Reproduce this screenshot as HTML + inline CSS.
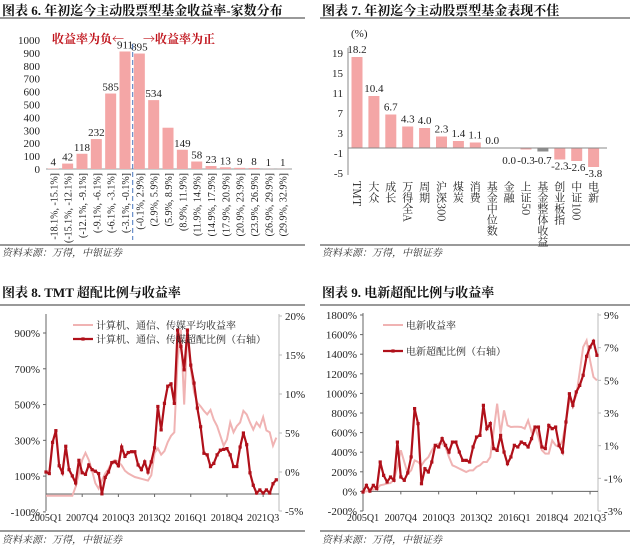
<!DOCTYPE html>
<html><head><meta charset="utf-8"><style>
html,body{margin:0;padding:0;background:#fff;}
svg{display:block;font-family:"Liberation Serif","Noto Serif CJK SC",serif;}
.t{font-family:"Liberation Serif","Noto Serif CJK SC",serif;font-weight:bold;font-size:13px;fill:#111;}
.ax{font-size:11px;fill:#222;font-family:"Liberation Serif","Noto Sans CJK SC",serif;}
.xt{font-size:10px;fill:#222;font-family:"Liberation Serif",serif;}
.src{font-size:10px;fill:#333;font-style:italic;font-family:"Liberation Serif","Noto Serif CJK SC",serif;}
</style></head><body>
<svg id="root" width="640" height="550" viewBox="0 0 640 550" xmlns="http://www.w3.org/2000/svg">
<text class="t" x="2" y="15">图表 6. 年初迄今主动股票型基金收益率-家数分布</text>
<line x1="0" y1="18" x2="305" y2="18" stroke="#333" stroke-width="1"/>
<text class="t" x="322" y="15">图表 7. 年初迄今主动股票型基金表现不佳</text>
<line x1="320" y1="18" x2="630" y2="18" stroke="#333" stroke-width="1"/>
<line x1="0" y1="245" x2="305" y2="245" stroke="#333"/>
<text class="src" x="2" y="256">资料来源：万得，中银证券</text>
<line x1="320" y1="245" x2="630" y2="245" stroke="#333"/>
<text class="src" x="322" y="256">资料来源：万得，中银证券</text>
<text class="t" x="2" y="297">图表 8. TMT 超配比例与收益率</text>
<line x1="0" y1="305" x2="305" y2="305" stroke="#333"/>
<text class="t" x="322" y="297">图表 9. 电新超配比例与收益率</text>
<line x1="320" y1="305" x2="630" y2="305" stroke="#333"/>
<line x1="0" y1="531" x2="305" y2="531" stroke="#333"/>
<text class="src" x="2" y="543">资料来源：万得，中银证券</text>
<line x1="320" y1="531" x2="630" y2="531" stroke="#333"/>
<text class="src" x="322" y="543">资料来源：万得，中银证券</text>
</svg>
<script>
// ---------- Figure 6 data ----------
const f6Categories = ["-18.1%, -15.1%]","(-15.1%, -12.1%]","(-12.1%, -9.1%]","(-9.1%, -6.1%]","(-6.1%, -3.1%]","(-3.1%, -0.1%]","(-0.1%, 2.9%]","(2.9%, 5.9%]","(5.9%, 8.9%]","(8.9%, 11.9%]","(11.9%, 14.9%]","(14.9%, 17.9%]","(17.9%, 20.9%]","(20.9%, 23.9%]","(23.9%, 26.9%]","(26.9%, 29.9%]","(29.9%, 32.9%]"];
const f6Values = [4,42,118,232,585,911,895,534,320,149,58,23,13,9,8,1,1];
const f6ShowLabel = [1,1,1,1,1,1,1,1,0,1,1,1,1,1,1,1,1];
const f6Ticks = [0,100,200,300,400,500,600,700,800,900,1000];
// ---------- Figure 7 data ----------
const f7Categories = ["TMT","大众","成长","万得全A","周期","沪深300","煤炭","消费","基金中位数","金融","上证50","基金整体收益","创业板指","中证100","电新"];
const f7Values = [18.2,10.4,6.7,4.3,4.0,2.3,1.4,1.1,0.0,0.0,-0.3,-0.7,-2.3,-2.6,-3.8];
const f7Ticks = [19,15,11,7,3,-1,-5];
// ---------- Figure 8 data ----------
const f8XLabels = ["2005Q1","2007Q4","2010Q3","2013Q2","2016Q1","2018Q4","2021Q3"];
const f8LeftTicks = [-100,100,300,500,700,900];
const f8RightTicks = [-5,0,5,10,15,20];
const f8Return = [-10,-10,-10,-10,-10,-10,-10,-10,-10,40,115,190,230,190,130,60,30,75,115,140,180,190,180,160,130,115,105,95,90,85,80,75,105,230,255,220,240,290,325,345,750,920,500,920,700,570,510,490,465,445,470,415,380,325,270,305,400,345,380,400,465,445,400,360,400,375,430,355,345,270,315];
const f8Overweight = [0.0,-0.2,3.8,5.3,0.8,-0.1,3.3,0.3,-0.5,-1.4,1.5,-0.1,-0.3,0.9,0.3,0.1,-0.2,-2.8,-0.7,0.0,1.2,1.3,0.8,3.2,2.0,2.5,2.6,2.6,0.9,0.3,1.3,0.0,1.3,3.1,8.4,5.4,8.8,11.0,11.3,8.8,18.2,16.1,13.1,18.2,13.7,11.4,8.2,5.8,2.4,2.2,0.7,1.1,2.2,2.8,2.9,3.0,2.2,0.7,0.7,3.2,5.0,3.5,-0.1,-1.7,-2.7,-2.3,-2.7,-2.3,-2.7,-1.5,-1.0];
// ---------- Figure 9 data ----------
const f9XLabels = ["2005Q1","2007Q4","2010Q3","2013Q2","2016Q1","2018Q4","2021Q3"];
const f9LeftTicks = [-200,0,200,400,600,800,1000,1200,1400,1600,1800];
const f9RightTicks = [-3,-1,1,3,5,7,9];
const f9Return = [0,0,10,20,30,62,70,80,85,120,250,420,300,180,215,317,300,266,317,350,420,470,487,487,453,350,266,250,232,215,198,215,215,250,266,300,300,350,623,895,590,827,674,657,660,660,657,640,725,606,657,555,420,385,385,520,470,453,520,708,930,895,980,1218,1473,1540,1337,1167,1133];
const f9Overweight = [-1.84,-1.43,-1.78,-1.43,-1.63,0.0,-0.82,-1.22,-0.92,-1.12,1.22,-0.92,-1.12,-0.67,0.31,3.27,2.35,-1.33,-0.41,-0.61,0.0,1.02,0.92,1.43,1.02,0.61,1.22,1.22,0.61,0.1,0.1,0.0,0.92,1.53,1.63,3.47,2.04,2.35,0.82,0.71,1.63,0.61,-0.1,0.31,1.02,0.92,1.22,1.12,0.92,1.43,2.14,2.14,0.92,0.82,2.24,2.04,2.14,1.02,0.61,2.45,4.18,3.47,4.29,4.69,5.31,6.47,7.04,7.39,6.53];

const NS="http://www.w3.org/2000/svg";
const root=document.getElementById('root');
function mk(tag,attrs,parent){const e=document.createElementNS(NS,tag);for(const k in attrs)e.setAttribute(k,attrs[k]);(parent||root).appendChild(e);return e;}
function lin(d0,d1,r0,r1){return v=>r0+(v-d0)*(r1-r0)/(d1-d0);}
const PINK="#f4a6a6", DARK="#b0101a", LPINK="#f0b3b3";

// ===== Figure 6 =====
(function(){
  const y=lin(0,1000,169,40);
  const x=i=>53.3+i*14.34;
  f6Ticks.forEach(t=>{
    const e=mk('text',{x:40,y:y(t)+4,'text-anchor':'end',class:'ax'});
    
    
    e.textContent=t;
  });
  const ax=mk('line',{x1:46,y1:169,x2:292,y2:169,stroke:'#999'});
  
  
  f6Values.forEach((v,i)=>{
    const b=mk('rect',{x:x(i)-5.5,y:y(v),width:11,height:169-y(v),fill:PINK});
    
    
    if(f6ShowLabel[i]){
      const l=mk('text',{x:x(i),y:y(v)-3,'text-anchor':'middle',class:'ax'});
      
      
      l.textContent=v;
    }
    const c=mk('text',{x:0,y:0,'text-anchor':'end',class:'ax',transform:`translate(${x(i)+4},173) rotate(-90)`,style:'font-size:10px'});
    
    
    c.textContent=f6Categories[i];
  });
  const d=mk('line',{x1:132.7,y1:44,x2:132.7,y2:240,stroke:'#4a78c0','stroke-dasharray':'5,3','stroke-width':1});
  
  
  const n=mk('text',{x:52,y:43,fill:'#c0141c',style:'font-size:12px;font-weight:bold;font-family:"Noto Serif CJK SC",serif'});
  
  
  n.textContent='收益率为负←';
  const p=mk('text',{x:143,y:43,fill:'#c0141c',style:'font-size:12px;font-weight:bold;font-family:"Noto Serif CJK SC",serif'});
  
  
  p.textContent='→收益率为正';
})();

// ===== Figure 7 =====
(function(){
  const y=lin(0,19,148,53);
  const x=i=>357+i*16.9;
  f7Ticks.forEach(t=>{
    const e=mk('text',{x:343,y:y(t)+4,'text-anchor':'end',class:'ax'});
    
    
    e.textContent=t;
  });
  const u=mk('text',{x:351,y:37,class:'ax'});
  
  
  u.textContent='(%)';
  const va=mk('line',{x1:348,y1:48,x2:348,y2:175,stroke:'#888'});
  
  
  f7Values.forEach((v,i)=>{
    const top=Math.min(y(v),y(0)), h=Math.abs(y(v)-y(0));
    const b=mk('rect',{x:x(i)-5.5,y:top,width:11,height:Math.max(h,0.5),fill:i===11?'#8c8c8c':PINK});
    
    
    let ly;
    if(v>0||(v===0&&i===8)) ly=y(v)-4;
    else if(v>-1) ly=y(0)+16;
    else ly=y(v)+10;
    const l=mk('text',{x:x(i),y:ly,'text-anchor':'middle',class:'ax'});
    
    
    l.textContent=v.toFixed(1);
  });
  const ax=mk('line',{x1:348,y1:y(0),x2:607,y2:y(0),stroke:'#888'});
  
  
  f7Categories.forEach((c,i)=>{
    const t=mk('text',{x:x(i),y:181,class:'ax',style:'writing-mode:vertical-rl;font-size:11px;font-family:"Noto Serif CJK SC",serif'});
    
    
    t.textContent=c;
  });
})();

// ===== Dual-axis line chart helper =====
function dual(cfg){
  const {xl,xr,ytop,ybot,xaxisY,xStart,xStep,lt,rt,lScale,rScale,ret,ow,xlabels,leg}=cfg;
  const pre=cfg.pfx;
  lt.forEach(t=>{
    const e=mk('text',{x:xl-6,y:lScale(t)+4,'text-anchor':'end',class:'ax'});
    
    
    e.textContent=t+'%';
  });
  rt.forEach(t=>{
    const e=mk('text',{x:xr+6,y:rScale(t)+4,class:'ax',fill:'#555'});
    
    
    e.textContent=t+'%';
    mk('line',{x1:xr,y1:rScale(t),x2:xr+3,y2:rScale(t),stroke:'#bbb'});
  });
  const la=mk('line',{x1:xl,y1:ytop,x2:xl,y2:ybot,stroke:'#666'});
  
  
  const ra=mk('line',{x1:xr,y1:ytop,x2:xr,y2:ybot,stroke:'#bbb'});
  
  
  const xa=mk('line',{x1:xl,y1:xaxisY,x2:xr,y2:xaxisY,stroke:'#666'});
  
  
  lt.forEach(t=>mk('line',{x1:xl-3,y1:lScale(t),x2:xl,y2:lScale(t),stroke:'#666'}));
  const X=i=>xStart+i*xStep;
  xlabels.forEach((s,k)=>{
    const e=mk('text',{x:X(k*11),y:ybot+10,'text-anchor':'middle',class:'xt'});
    
    
    e.textContent=s;
    mk('line',{x1:X(k*11),y1:xaxisY,x2:X(k*11),y2:xaxisY+3,stroke:'#666'});
  });
  const p1=mk('polyline',{points:ret.map((v,i)=>X(i)+','+lScale(v)).join(' '),fill:'none',stroke:LPINK,'stroke-width':2});
  
  
  const p2=mk('polyline',{points:ow.map((v,i)=>X(i)+','+rScale(v)).join(' '),fill:'none',stroke:DARK,'stroke-width':2.2});
  
  
  ow.forEach((v,i)=>{
    const m=mk('rect',{x:X(i)-1.6,y:rScale(v)-1.6,width:3.2,height:3.2,fill:DARK});
    
    
  });
  const l1=mk('line',{x1:leg.x,y1:leg.y1,x2:leg.x+20,y2:leg.y1,stroke:LPINK,'stroke-width':2});
  
  
  const t1=mk('text',{x:leg.x+23,y:leg.y1+4,class:'ax',style:'font-size:10px;font-family:"Noto Serif CJK SC",serif'});
  
  
  t1.textContent=leg.t1;
  const l2=mk('line',{x1:leg.x,y1:leg.y2,x2:leg.x+20,y2:leg.y2,stroke:DARK,'stroke-width':2.2});
  
  
  mk('rect',{x:leg.x+8.4,y:leg.y2-1.6,width:3.2,height:3.2,fill:DARK});
  const t2=mk('text',{x:leg.x+23,y:leg.y2+4,class:'ax',style:'font-size:10px;font-family:"Noto Serif CJK SC",serif'});
  
  
  t2.textContent=leg.t2;
}

dual({pfx:'fig8',xl:46,xr:279,ytop:314,ybot:511,xaxisY:494,xStart:46,xStep:3.29,
  lt:f8LeftTicks,rt:f8RightTicks,lScale:lin(0,900,494,333),rScale:lin(0,20,472,316),
  ret:f8Return,ow:f8Overweight,xlabels:f8XLabels,
  leg:{x:73,y1:325,y2:339,t1:'计算机、通信、传媒平均收益率',t2:'计算机、通信、传媒超配比例（右轴）'}});

dual({pfx:'fig9',xl:363,xr:598,ytop:313,ybot:511,xaxisY:491.4,xStart:363,xStep:3.44,
  lt:f9LeftTicks,rt:f9RightTicks,lScale:lin(0,1800,491.4,315),rScale:lin(-3,9,511,315),
  ret:f9Return,ow:f9Overweight,xlabels:f9XLabels,
  leg:{x:383,y1:325,y2:351,t1:'电新收益率',t2:'电新超配比例（右轴）'}});
</script>
</body></html>
